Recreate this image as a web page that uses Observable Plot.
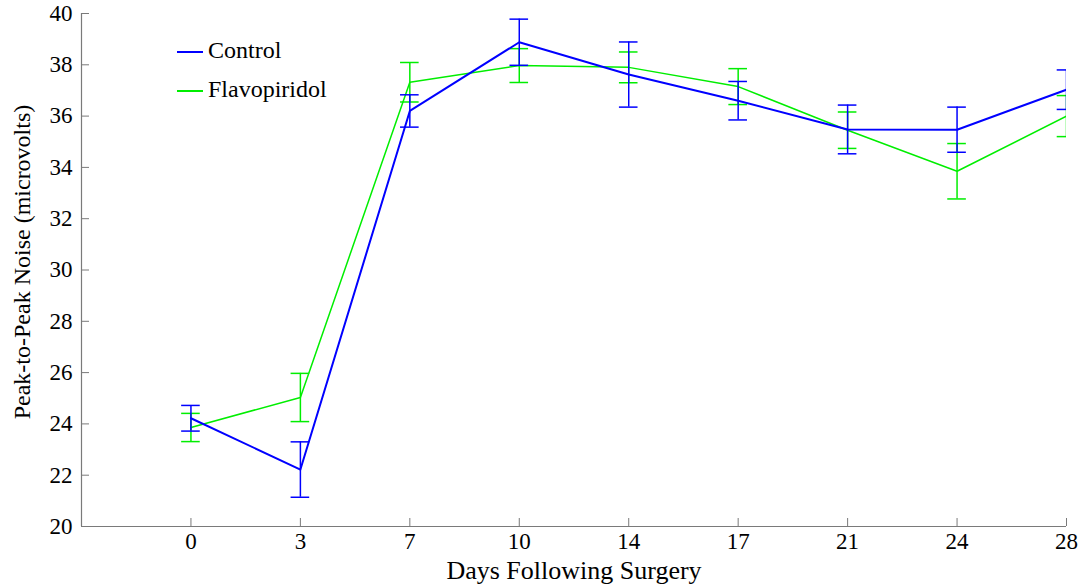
<!DOCTYPE html>
<html>
<head>
<meta charset="utf-8">
<script src="https://cdn.jsdelivr.net/npm/d3@7"></script>
<script src="https://cdn.jsdelivr.net/npm/@observablehq/plot@0.6"></script>
<style>
  html, body { margin: 0; padding: 0; background: #fff; }
  #wrap { position: relative; width: 1083px; height: 588px; font-family: "Liberation Serif", serif; }
  #wrap svg text { font-family: "Liberation Serif", serif; }
  .legend { position: absolute; left: 177px; top: 31px; font-size: 24px; color: #000; line-height: 39px; font-family: "Liberation Serif", serif; }
  .legend .row { display: flex; align-items: center; }
  .legend .sw { display: inline-block; width: 26px; height: 2px; margin-right: 5px; margin-top: 2px; }
</style>
</head>
<body>
<div id="wrap"></div>
<script>
const days = [0, 3, 7, 10, 14, 17, 21, 24, 28];
const controlMean = [24.22, 22.22, 36.2, 38.88, 37.62, 36.6, 35.48, 35.47, 37.03];
const controlErr  = [0.5, 1.08, 0.63, 0.9, 1.27, 0.75, 0.95, 0.88, 0.77];
const flavoMean   = [23.86, 25.03, 37.32, 37.97, 37.9, 37.15, 35.45, 33.85, 36.0];
const flavoErr    = [0.55, 0.94, 0.77, 0.66, 0.6, 0.7, 0.71, 1.08, 0.8];
const yTicks = [20, 22, 24, 26, 28, 30, 32, 34, 36, 38, 40];
const seriesNames = ["Control", "Flavopiridol"];
const seriesColors = ["#0000ff", "#00ee00"];
const xLabel = "Days Following Surgery";
const yLabel = "Peak-to-Peak Noise (microvolts)";

function rows(means, errs, name) {
  return days.map((d, i) => ({i, day: d, mean: means[i], lo: means[i] - errs[i], hi: means[i] + errs[i], series: name}));
}
const control = rows(controlMean, controlErr, seriesNames[0]);
const flavo = rows(flavoMean, flavoErr, seriesNames[1]);
const cap = 0.085;
const serif = "Liberation Serif";

function seriesMarks(data, color, width) {
  return [
    Plot.ruleX(data, {x: "i", y1: "lo", y2: "hi", stroke: color, strokeWidth: 1.5, clip: true}),
    Plot.ruleY(data, {y: "hi", x1: d => d.i - cap, x2: d => d.i + cap, stroke: color, strokeWidth: 1.5, clip: true}),
    Plot.ruleY(data, {y: "lo", x1: d => d.i - cap, x2: d => d.i + cap, stroke: color, strokeWidth: 1.5, clip: true}),
    Plot.line(data, {x: "i", y: "mean", stroke: color, strokeWidth: width, clip: true})
  ];
}

const chart = Plot.plot({
  width: 1083,
  height: 588,
  marginLeft: 81,
  marginRight: 17,
  marginTop: 13,
  marginBottom: 62,
  style: {fontFamily: serif, fontSize: "23px", background: "#fff", color: "#000"},
  x: {domain: [-1, 8]},
  y: {domain: [20, 40]},
  marks: [
    ...seriesMarks(flavo, seriesColors[1], 1.5),
    ...seriesMarks(control, seriesColors[0], 2),
    Plot.ruleX([-1], {stroke: "#7a7a7a", strokeWidth: 1.2}),
    Plot.ruleY([20], {stroke: "#7a7a7a", strokeWidth: 1.2}),
    Plot.axisY({ticks: yTicks, tickSize: 8, dx: 8, tickFormat: () => "", stroke: "#7a7a7a", label: null}),
    Plot.axisY({ticks: yTicks, tickSize: 0, tickPadding: 9, fontSize: 23, fontFamily: serif, fill: "#000", label: null}),
    Plot.axisX({ticks: d3.range(days.length), tickSize: 8, dy: -8, tickFormat: () => "", stroke: "#7a7a7a", label: null}),
    Plot.axisX({ticks: d3.range(days.length), tickSize: 0, tickPadding: 6, fontSize: 23, fontFamily: serif, fill: "#000",
      tickFormat: i => String(days[i]), label: null}),
    Plot.text([xLabel], {text: d => d, frameAnchor: "bottom", dy: 44, fontSize: 26, fontFamily: serif, fill: "#000", lineAnchor: "middle"}),
    Plot.text([yLabel], {text: d => d, frameAnchor: "left", textAnchor: "middle", dx: -59, dy: -8, rotate: -90, fontSize: 24, fontFamily: serif, fill: "#000", lineAnchor: "middle"})
  ]
});

const wrap = document.getElementById("wrap");
wrap.appendChild(chart);
const legend = document.createElement("div");
legend.className = "legend";
seriesNames.forEach((n, k) => {
  const row = document.createElement("div");
  row.className = "row";
  const sw = document.createElement("span");
  sw.className = "sw";
  sw.style.background = seriesColors[k];
  const t = document.createElement("span");
  t.textContent = n;
  row.appendChild(sw);
  row.appendChild(t);
  legend.appendChild(row);
});
wrap.appendChild(legend);
</script>
</body>
</html>
